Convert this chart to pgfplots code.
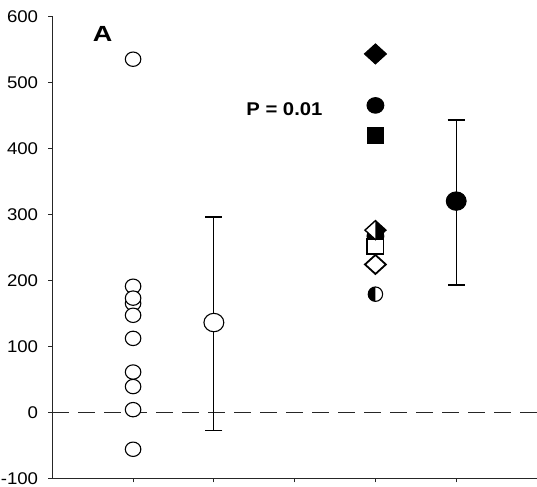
\documentclass[border=0pt]{standalone}
\usepackage{pgfplots}
\pgfplotsset{compat=1.18}
\usepackage{fontspec}
\setmainfont[FakeStretch=1.1]{Liberation Sans}
\pgfdeclareplotmark{ell}{%
  \pgfpathellipse{\pgfpointorigin}{\pgfqpoint{1.08\pgfplotmarksize}{0pt}}{\pgfqpoint{0pt}{\pgfplotmarksize}}%
  \pgfusepathqfillstroke}
\pgfdeclareplotmark{sq}{%
  \pgfpathrectangle{\pgfqpoint{-1.08\pgfplotmarksize}{-\pgfplotmarksize}}{\pgfqpoint{2.16\pgfplotmarksize}{2\pgfplotmarksize}}%
  \pgfusepathqfillstroke}
\pgfdeclareplotmark{dia}{%
  \pgfpathmoveto{\pgfqpoint{0pt}{\pgfplotmarksize}}%
  \pgfpathlineto{\pgfqpoint{1.1\pgfplotmarksize}{0pt}}%
  \pgfpathlineto{\pgfqpoint{0pt}{-\pgfplotmarksize}}%
  \pgfpathlineto{\pgfqpoint{-1.1\pgfplotmarksize}{0pt}}%
  \pgfpathclose
  \pgfusepathqfillstroke}
\pgfdeclareplotmark{hdiaR}{%
  \pgfpathmoveto{\pgfqpoint{0pt}{\pgfplotmarksize}}%
  \pgfpathlineto{\pgfqpoint{1.1\pgfplotmarksize}{0pt}}%
  \pgfpathlineto{\pgfqpoint{0pt}{-\pgfplotmarksize}}%
  \pgfpathlineto{\pgfqpoint{-1.1\pgfplotmarksize}{0pt}}%
  \pgfpathclose
  \pgfsetfillcolor{white}\pgfusepathqfill
  \pgfpathmoveto{\pgfqpoint{0pt}{\pgfplotmarksize}}%
  \pgfpathlineto{\pgfqpoint{1.1\pgfplotmarksize}{0pt}}%
  \pgfpathlineto{\pgfqpoint{0pt}{-\pgfplotmarksize}}%
  \pgfpathclose
  \pgfsetfillcolor{black}\pgfusepathqfill
  \pgfpathmoveto{\pgfqpoint{0pt}{\pgfplotmarksize}}%
  \pgfpathlineto{\pgfqpoint{1.1\pgfplotmarksize}{0pt}}%
  \pgfpathlineto{\pgfqpoint{0pt}{-\pgfplotmarksize}}%
  \pgfpathlineto{\pgfqpoint{-1.1\pgfplotmarksize}{0pt}}%
  \pgfpathclose
  \pgfusepathqstroke}
\pgfdeclareplotmark{hcircL}{%
  \pgfpathcircle{\pgfpointorigin}{\pgfplotmarksize}%
  \pgfsetfillcolor{white}\pgfusepathqfill
  \pgfpathmoveto{\pgfqpoint{0pt}{\pgfplotmarksize}}%
  \pgfpatharc{90}{270}{\pgfplotmarksize}%
  \pgfpathclose
  \pgfsetfillcolor{black}\pgfusepathqfill
  \pgfpathcircle{\pgfpointorigin}{\pgfplotmarksize}%
  \pgfusepathqstroke}
\begin{document}
\begin{tikzpicture}
\useasboundingbox (-52.3bp,-8.7bp) rectangle (484.7bp,478.3bp);
\begin{axis}[
  scale only axis,
  width=484.7bp, height=462bp,
  xmin=0, xmax=6, ymin=-100, ymax=600,
  axis x line=bottom, axis y line=left,
  axis line style={-, line width=1bp, black!85},
  xtick={1,2,3,4,5}, xticklabels={},
  ytick={-100,0,...,600},
  tick align=outside,
  major tick length=4bp,
  tick style={line width=1bp, black!85},
  /pgf/number format/assume math mode=true,
  ticklabel style={font=\fontsize{17}{17}\selectfont},
  yticklabel style={inner sep=0pt, xshift=-10bp},
  clip=false,
]
% zero reference line
\addplot[dash pattern=on 17bp off 9bp, line width=0.9bp, black!85] coordinates {(0,0) (6,0)};

% group 1 individual values
\addplot[only marks, mark=ell, mark size=7.2bp, mark options={fill=white, draw=black, line width=1.1bp}]
coordinates {(1,535) (1,191) (1,165) (1,173) (1,147) (1,112) (1,61) (1,39) (1,4) (1,-56)};

% group 1 mean and error bar
\addplot[only marks, mark=none, error bars/.cd, y dir=both, y explicit,
  error bar style={line width=1.2bp, black},
  error mark options={rotate=90, mark size=8.5bp, line width=1.2bp, black}]
coordinates {(2,136) += (0,160) -= (0,163)};
\addplot[only marks, mark=ell, mark size=9.2bp, mark options={fill=white, draw=black, line width=1.1bp}]
coordinates {(2,136)};

% group 2 individual values
\addplot[only marks, mark=ell, mark size=7.8bp, mark options={fill=black, draw=black, line width=1bp}]
coordinates {(4,267)};
\addplot[only marks, mark=sq, mark size=7.6bp, mark options={fill=white, draw=black, line width=1.6bp}]
coordinates {(4,251)};
\addplot[only marks, mark=hdiaR, mark size=9.5bp, mark options={draw=black, line width=1.4bp}]
coordinates {(4,276)};
\addplot[only marks, mark=dia, mark size=9.5bp, mark options={fill=white, draw=black, line width=1.8bp}]
coordinates {(4,224)};
\addplot[only marks, mark=hcircL, mark size=7.2bp, mark options={draw=black, line width=1.1bp}]
coordinates {(4,179)};
\addplot[only marks, mark=dia, mark size=10bp, mark options={fill=black, draw=black, line width=1bp}]
coordinates {(4,543)};
\addplot[only marks, mark=ell, mark size=7.8bp, mark options={fill=black, draw=black, line width=1bp}]
coordinates {(4,465)};
\addplot[only marks, mark=sq, mark size=7.8bp, mark options={fill=black, draw=black, line width=1bp}]
coordinates {(4,419)};

% group 2 mean and error bar
\addplot[only marks, mark=none, error bars/.cd, y dir=both, y explicit,
  error bar style={line width=1.2bp, black},
  error mark options={rotate=90, mark size=8.5bp, line width=1.2bp, black}]
coordinates {(5,320) += (0,123) -= (0,127)};
\addplot[only marks, mark=ell, mark size=9.2bp, mark options={fill=black, draw=black, line width=1bp}]
coordinates {(5,320)};

\node[anchor=west, inner sep=0pt, font=\bfseries\fontsize{22}{22}\selectfont] at (axis cs:0.5,573) {\scalebox{1.12}[1]{A}};
\node[anchor=west, inner sep=0pt, font=\bfseries\fontsize{18.5}{18.5}\selectfont] at (axis cs:2.4,459) {P = 0.01};
\end{axis}
\end{tikzpicture}
\end{document}
